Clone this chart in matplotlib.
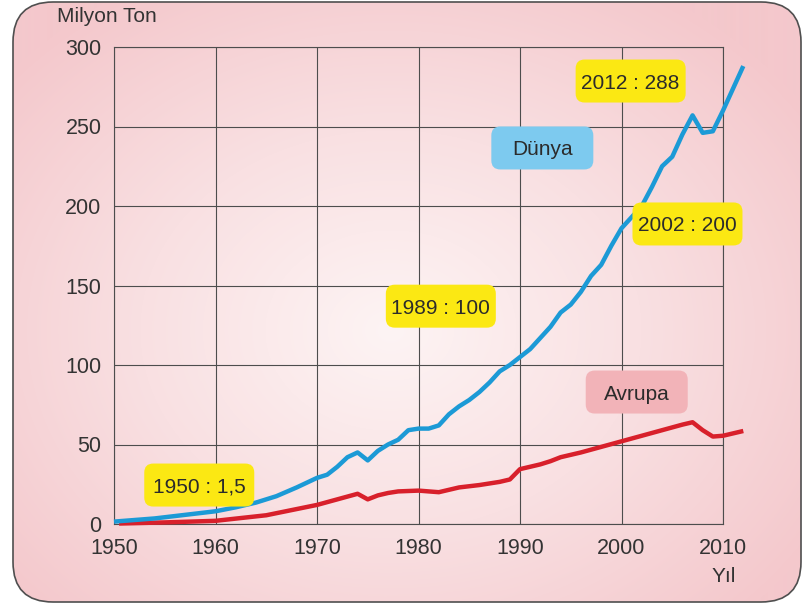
import numpy as np
import matplotlib
matplotlib.use("Agg")
import matplotlib.pyplot as plt
from matplotlib.patches import FancyBboxPatch
from matplotlib.colors import LinearSegmentedColormap
from matplotlib.transforms import ScaledTranslation

plt.rcParams['font.family'] = ['Liberation Sans', 'DejaVu Sans']

# World plastic production (million tonnes)
dunya_yil = [1950, 1952, 1954, 1956, 1958, 1960, 1962, 1964, 1966, 1968, 1970,
             1971, 1972, 1973, 1974, 1975, 1976, 1977, 1978, 1979, 1980, 1981,
             1982, 1983, 1984, 1985, 1986, 1987, 1988, 1989, 1990, 1991, 1992,
             1993, 1994, 1995, 1996, 1997, 1998, 1999, 2000, 2001, 2002, 2003,
             2004, 2005, 2006, 2007, 2008, 2009, 2010, 2011, 2012]
dunya = [1.5, 2.5, 3.5, 5, 6.5, 8, 10.5, 13.5, 17.5, 23, 29,
         31, 36, 42, 45, 40, 46, 50, 53, 59, 60, 60,
         62, 69, 74, 78, 83, 89, 96, 100, 105, 110, 117,
         124, 133, 138, 146, 156, 163, 175, 186, 193, 200, 212,
         225, 231, 245, 257, 246, 247, 260, 274, 288]

# Europe
avrupa_yil = [1950.5, 1955, 1960, 1965, 1970, 1972, 1974, 1975, 1976, 1977, 1978,
              1980, 1981, 1982, 1983, 1984, 1986, 1988, 1989, 1990, 1991, 1992,
              1993, 1994, 1995, 1996, 1998, 2000, 2002, 2004, 2006, 2007, 2008,
              2009, 2010, 2011, 2012]
avrupa = [0.3, 1, 2, 5.5, 12, 15.5, 19, 15.5, 18, 19.5, 20.5,
          21, 20.5, 20, 21.5, 23, 24.5, 26.5, 28, 34.5, 36, 37.5,
          39.5, 42, 43.5, 45, 48.5, 52, 55.5, 59, 62.5, 64, 59,
          55, 55.5, 57, 58.5]

x_ticks = [1950, 1960, 1970, 1980, 1990, 2000, 2010]
y_ticks = [0, 50, 100, 150, 200, 250, 300]

# (text, x, y, box colour)
etiketler = [
    ("1950 : 1,5", 1958.4, 24.5, "#fbe813"),
    ("1989 : 100", 1982.2, 137, "#fbe813"),
    ("Dünya", 1992.2, 236.5, "#7dcaef"),
    ("2012 : 288", 2000.9, 278.6, "#fbe813"),
    ("2002 : 200", 2006.5, 188.7, "#fbe813"),
    ("Avrupa", 2001.5, 83, "#f2b3b8"),
]

fig = plt.figure(figsize=(8.05, 6.04), dpi=100)

# background panel with radial pink gradient and rounded border
bg = fig.add_axes([0, 0, 1, 1])
bg.set_xlim(0, 805)
bg.set_ylim(604, 0)
bg.axis('off')
yy, xx = np.mgrid[0:604, 0:805]
r = np.sqrt(((xx - 390) / 500.0) ** 2 + ((yy - 330) / 400.0) ** 2)
cmap = LinearSegmentedColormap.from_list('pembe', ['#fdf4f4', '#f9e0e2', '#f4c8cc'])
panel = FancyBboxPatch((13, 2), 788, 600, boxstyle="round,pad=0,rounding_size=40",
                       facecolor='none', edgecolor='#4f4f4f', linewidth=1.2, zorder=3)
bg.add_patch(panel)
img = bg.imshow(np.clip(r, 0, 1), cmap=cmap, extent=(0, 805, 604, 0), zorder=1)
img.set_clip_path(panel)

ax = fig.add_axes([114 / 805, 1 - 524 / 604, (723 - 114) / 805, (524 - 47) / 604])
ax.patch.set_alpha(0)
ax.set_xlim(1950, 2010)
ax.set_ylim(0, 300)
ax.set_xticks(x_ticks)
ax.set_yticks(y_ticks)
ax.tick_params(length=0, labelsize=15.5, colors='#333333')
ax.tick_params(axis='x', pad=10)
ax.tick_params(axis='y', pad=9)
ax.grid(True, color='#4d4d4d', linewidth=0.8)
for s in ax.spines.values():
    s.set_color('#4d4d4d')
    s.set_linewidth(0.8)

ax.plot(avrupa_yil, avrupa, color='#d8202b', linewidth=3.2, clip_on=False,
        solid_capstyle='butt', solid_joinstyle='round', zorder=4)
ax.plot(dunya_yil, dunya, color='#1c9ad6', linewidth=3.2, clip_on=False,
        solid_capstyle='butt', solid_joinstyle='round', zorder=5)

# rounded label boxes, sized in inches around the data point
for metin, x, y, renk in etiketler:
    w = 1.10 if ':' in metin else 1.02
    h = 0.43
    tr = fig.dpi_scale_trans + ScaledTranslation(x, y, ax.transData)
    kutu = FancyBboxPatch((-w / 2, -h / 2), w, h,
                          boxstyle="round,pad=0,rounding_size=0.09",
                          facecolor=renk, edgecolor='none', transform=tr,
                          zorder=6, clip_on=False)
    ax.add_patch(kutu)
    ax.text(x, y, metin, ha='center', va='center_baseline', fontsize=15,
            color='#2b2b2b', zorder=7)

fig.text(57 / 805, 1 - 16 / 604, "Milyon Ton", fontsize=15, color='#333333',
         ha='left', va='center')
fig.text(724 / 805, 1 - 577 / 604, "Yıl", fontsize=15, color='#333333',
         ha='center', va='center')

fig.savefig('out.png', dpi=100)
